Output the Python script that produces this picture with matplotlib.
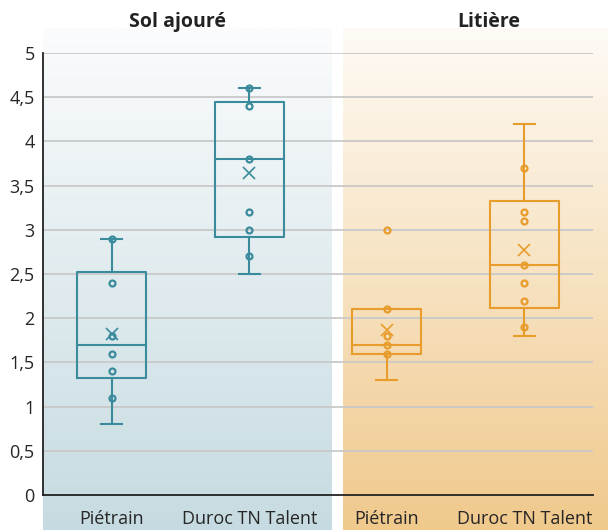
import matplotlib
matplotlib.use("Agg")
import matplotlib.pyplot as plt
import numpy as np
from matplotlib.colors import LinearSegmentedColormap

plt.rcParams["font.family"] = ["Open Sans", "DejaVu Sans"]

# data
groups = ["Sol ajouré", "Litière"]
categories = ["Piétrain", "Duroc TN Talent", "Piétrain", "Duroc TN Talent"]
whislo = [0.8, 2.5, 1.3, 1.8]
q1 = [1.32, 2.92, 1.6, 2.12]
med = [1.7, 3.8, 1.7, 2.6]
q3 = [2.52, 4.45, 2.1, 3.33]
whishi = [2.9, 4.6, 2.1, 4.2]
means = [1.82, 3.64, 1.87, 2.77]
points = [
    [2.9, 2.4, 1.8, 1.6, 1.4, 1.1],
    [4.6, 4.4, 3.8, 3.2, 3.0, 2.7],
    [3.0, 2.1, 1.8, 1.7, 1.6],
    [3.7, 3.2, 3.1, 2.6, 2.4, 2.2, 1.9],
]
yticks = [0, 0.5, 1, 1.5, 2, 2.5, 3, 3.5, 4, 4.5, 5]
ylabels = ["0", "0,5", "1", "1,5", "2", "2,5", "3", "3,5", "4", "4,5", "5"]

teal = "#3a8b9c"
orange = "#e89c2c"
colors = [teal, teal, orange, orange]

fig = plt.figure(figsize=(6.08, 5.30), dpi=100)
ax = fig.add_axes([43 / 608, 35 / 530, 550 / 608, 442 / 530])

# gradient panels behind each group
grad = np.linspace(0, 1, 256).reshape(-1, 1)
cm_left = LinearSegmentedColormap.from_list("l", ["#c6dbe1", "#fbfcfd"])
cm_right = LinearSegmentedColormap.from_list("r", ["#f0c98c", "#fefbf6"])
ax.imshow(grad, cmap=cm_left, aspect="auto", origin="lower",
          extent=(-0.5, 1.6, -0.4, 5.28), clip_on=False, zorder=0)
ax.imshow(grad, cmap=cm_right, aspect="auto", origin="lower",
          extent=(1.68, 3.62, -0.4, 5.28), clip_on=False, zorder=0)
ax.set_xlim(-0.5, 3.5)
ax.set_ylim(0, 5)

for y in yticks[1:]:
    ax.axhline(y, color="#c9c9c9", lw=1.3, zorder=1)

for i in range(4):
    c = colors[i]
    s = dict(med=med[i], q1=q1[i], q3=q3[i], whislo=whislo[i],
             whishi=whishi[i], mean=means[i], fliers=[])
    ax.bxp([s], positions=[i], widths=0.5, capwidths=0.15, showmeans=True,
           showfliers=False, manage_ticks=False,
           boxprops=dict(color=c, lw=1.5),
           medianprops=dict(color=c, lw=1.5),
           whiskerprops=dict(color=c, lw=1.5),
           capprops=dict(color=c, lw=1.5),
           meanprops=dict(marker="x", markeredgecolor=c, markersize=8,
                          markeredgewidth=1.2),
           zorder=3)
    ax.plot([i] * len(points[i]), points[i], "o", ls="none", mfc="none",
            mec=c, ms=4.3, mew=1.6, zorder=4)

ax.set_xticks(range(4))
ax.set_xticklabels(categories, fontsize=13, color="#262626")
ax.set_yticks(yticks)
ax.set_yticklabels(ylabels, fontsize=13, color="#262626")
ax.tick_params(length=0)
ax.tick_params(axis="y", pad=6)
ax.tick_params(axis="x", pad=11)

for side in ["top", "right"]:
    ax.spines[side].set_visible(False)
for side in ["left", "bottom"]:
    ax.spines[side].set_color("#222222")
    ax.spines[side].set_linewidth(1.3)
    ax.spines[side].set_zorder(5)
ax.set_facecolor("none")

ax.text(0.48, 5.29, groups[0], ha="center", va="baseline", fontsize=14,
        fontweight="bold", color="#222222")
ax.text(2.74, 5.29, groups[1], ha="center", va="baseline", fontsize=14,
        fontweight="bold", color="#222222")

fig.savefig("out.png", dpi=100)
